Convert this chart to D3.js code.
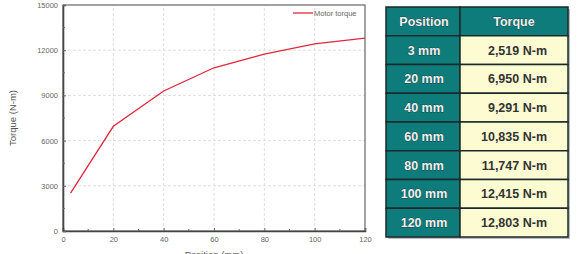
<!DOCTYPE html>
<html>
<head>
<meta charset="utf-8">
<script src="https://cdn.jsdelivr.net/npm/d3@7"></script>
<style>
  body { margin: 0; background: #fff; }
  svg { display: block; font-family: "Liberation Sans", Arial, sans-serif; }
</style>
</head>
<body>
<svg id="chart" width="578" height="254"></svg>
<script>
const positions = [3, 20, 40, 60, 80, 100, 120];
const torques = [2519, 6950, 9291, 10835, 11747, 12415, 12803];
const xTicks = [0, 20, 40, 60, 80, 100, 120];
const yTicks = [0, 3000, 6000, 9000, 12000, 15000];
const tableHeader = ["Position", "Torque"];
const posLabels = ["3 mm", "20 mm", "40 mm", "60 mm", "80 mm", "100 mm", "120 mm"];
const torqueLabels = ["2,519 N-m", "6,950 N-m", "9,291 N-m", "10,835 N-m", "11,747 N-m", "12,415 N-m", "12,803 N-m"];

const svg = d3.select('#chart');
const margin = { left: 63, top: 5, right: 213, bottom: 23 };
const width = 578, height = 254;

const x = d3.scaleLinear().domain([0, 120]).range([margin.left, width - margin.right]);
const y = d3.scaleLinear().domain([0, 15000]).range([height - margin.bottom, margin.top]);

// grid
svg.append('g')
  .selectAll('line')
  .data(xTicks.slice(1, -1))
  .join('line')
    .attr('x1', d => x(d)).attr('x2', d => x(d))
    .attr('y1', y(0)).attr('y2', y(15000))
    .attr('stroke', '#dedede').attr('stroke-dasharray', '3,2');
svg.append('g')
  .selectAll('line')
  .data(yTicks.slice(1, -1))
  .join('line')
    .attr('y1', d => y(d)).attr('y2', d => y(d))
    .attr('x1', x(0)).attr('x2', x(120))
    .attr('stroke', '#dedede').attr('stroke-dasharray', '3,2');

// frame
svg.append('rect')
  .attr('x', x(0)).attr('y', y(15000))
  .attr('width', x(120) - x(0)).attr('height', y(0) - y(15000))
  .attr('fill', 'none').attr('stroke', '#666').attr('stroke-width', 1.2);

// axes
const xAxis = svg.append('g')
  .attr('transform', `translate(0,${y(0)})`)
  .call(d3.axisBottom(x).tickValues(xTicks).tickSize(-3).tickPadding(6));
const yAxis = svg.append('g')
  .attr('transform', `translate(${x(0)},0)`)
  .call(d3.axisLeft(y).tickValues(yTicks).tickSize(-3).tickPadding(5).tickFormat(d3.format('d')));
[xAxis, yAxis].forEach(a => {
  a.select('.domain').attr('stroke', '#444').attr('stroke-width', 1.6);
  a.selectAll('.tick line').attr('stroke', '#666');
  a.selectAll('.tick text').attr('fill', '#666').style('font-size', '7.5px');
});

// minor ticks
svg.append('g').selectAll('line')
  .data(d3.range(10, 120, 20))
  .join('line')
    .attr('x1', d => x(d)).attr('x2', d => x(d))
    .attr('y1', y(0)).attr('y2', y(0) - 2)
    .attr('stroke', '#666');
svg.append('g').selectAll('line')
  .data(d3.range(1500, 15000, 3000))
  .join('line')
    .attr('y1', d => y(d)).attr('y2', d => y(d))
    .attr('x1', x(0)).attr('x2', x(0) + 2)
    .attr('stroke', '#666');

// axis labels
svg.append('text')
  .attr('transform', `translate(16,${(y(0) + y(15000)) / 2}) rotate(-90)`)
  .attr('text-anchor', 'middle')
  .attr('fill', '#555')
  .style('font-size', '9.5px')
  .text('Torque (N-m)');
svg.append('text')
  .attr('x', (x(0) + x(120)) / 2)
  .attr('y', 258)
  .attr('text-anchor', 'middle')
  .attr('fill', '#555')
  .style('font-size', '9.5px')
  .text('Position (mm)');

// line
const line = d3.line().x((d, i) => x(positions[i])).y(d => y(d));
svg.append('path')
  .datum(torques)
  .attr('d', line)
  .attr('fill', 'none')
  .attr('stroke', '#e0283c')
  .attr('stroke-width', 1.3);

// legend
svg.append('line')
  .attr('x1', 293).attr('x2', 313).attr('y1', 13).attr('y2', 13)
  .attr('stroke', '#e0283c').attr('stroke-width', 1.3);
svg.append('text')
  .attr('x', 314).attr('y', 15.5)
  .attr('fill', '#666')
  .style('font-size', '7.5px')
  .text('Motor torque');

// table
const tx = 386, ty = 7, col1 = 74, col2 = 108, rowH = 28.75;
const rows = [tableHeader].concat(posLabels.map((p, i) => [p, torqueLabels[i]]));
const table = svg.append('g');
table.append('rect')
  .attr('x', tx + 2).attr('y', ty + 2)
  .attr('width', col1 + col2).attr('height', rowH * rows.length)
  .attr('fill', '#bbb');
const rg = table.selectAll('g.row')
  .data(rows)
  .join('g')
    .attr('transform', (d, i) => `translate(${tx},${ty + i * rowH})`);
rg.append('rect')
  .attr('width', col1).attr('height', rowH)
  .attr('fill', '#0e7c7b').attr('stroke', '#1a2a2a').attr('stroke-width', 1.5);
rg.append('rect')
  .attr('x', col1)
  .attr('width', col2).attr('height', rowH)
  .attr('fill', (d, i) => i === 0 ? '#0e7c7b' : '#fdfbd2')
  .attr('stroke', '#1a2a2a').attr('stroke-width', 1.5);
rg.append('text')
  .attr('x', col1 / 2 + 1).attr('y', rowH / 2 + 4.5)
  .attr('text-anchor', 'middle')
  .attr('fill', '#f0f0f0')
  .style('font-size', '12.5px').style('font-weight', 'bold')
  .style('paint-order', 'stroke').attr('stroke', '#1c4848').attr('stroke-width', 0.8)
  .text(d => d[0]);
rg.append('text')
  .attr('x', (d, i) => i === 0 ? col1 + col2 / 2 : col1 + 87)
  .attr('y', rowH / 2 + 4.5)
  .attr('text-anchor', (d, i) => i === 0 ? 'middle' : 'end')
  .attr('fill', (d, i) => i === 0 ? '#f0f0f0' : '#333')
  .attr('stroke', (d, i) => i === 0 ? '#1c4848' : 'none')
  .attr('stroke-width', 0.8)
  .style('paint-order', 'stroke')
  .style('font-size', '12.5px').style('font-weight', 'bold')
  .text(d => d[1]);
</script>
</body>
</html>
